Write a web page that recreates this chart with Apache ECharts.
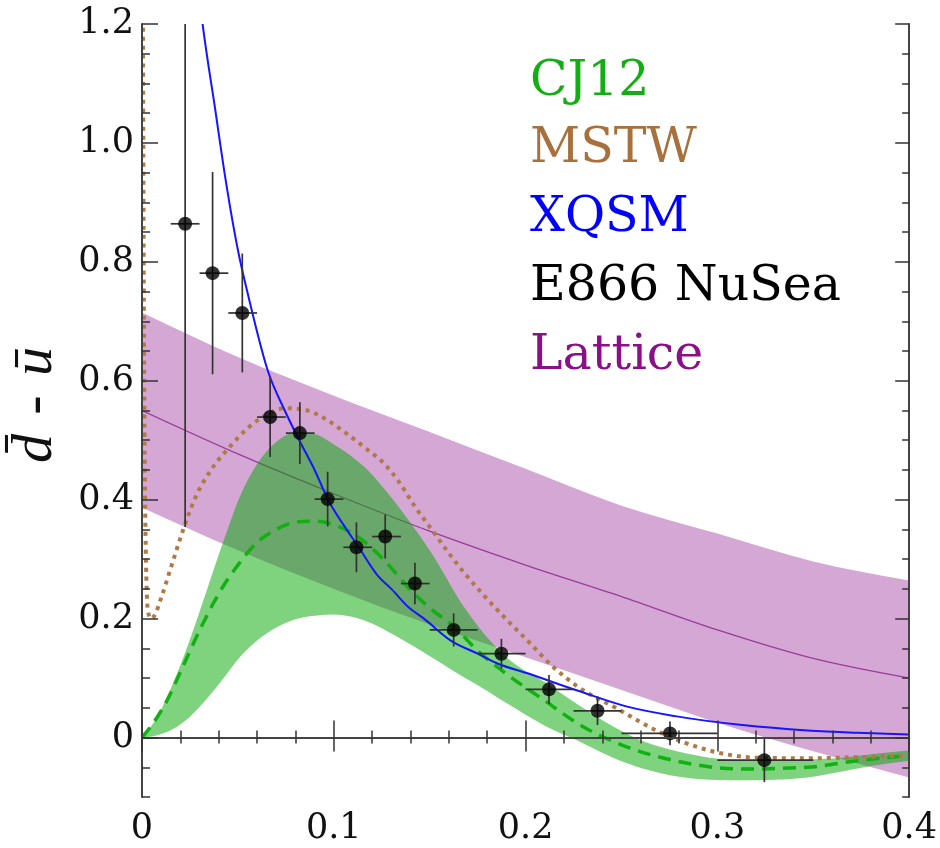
<!DOCTYPE html>
<html><head><meta charset="utf-8">
<script src="https://cdn.jsdelivr.net/npm/echarts@6/dist/echarts.min.js"></script>
<style>html,body{margin:0;padding:0;background:#fff}#c{width:940px;height:848px}</style>
</head><body><div id="c"></div>
<script>
// ---- tick labels ----
const xTickValues = [0, 0.1, 0.2, 0.3, 0.4];
const xTickLabels = ['0', '0.1', '0.2', '0.3', '0.4'];
const yTickValues = [0, 0.2, 0.4, 0.6, 0.8, 1.0, 1.2];
const yTickLabels = ['0', '0.2', '0.4', '0.6', '0.8', '1.0', '1.2'];

// ---- Lattice band ----
const latX     = [0, 0.05, 0.1, 0.15, 0.2, 0.25, 0.3, 0.35, 0.4];
const latLow   = [0.387, 0.315, 0.25, 0.19, 0.135, 0.08, 0.025, -0.023, -0.067];
const latHigh  = [0.715, 0.64, 0.575, 0.514, 0.452, 0.39, 0.343, 0.296, 0.264];
const latMid   = [0.55, 0.477, 0.41, 0.347, 0.29, 0.237, 0.181, 0.133, 0.1];

// ---- CJ12 band ----
const cjX    = [0, 0.008, 0.016, 0.025, 0.034, 0.043, 0.051, 0.06, 0.07, 0.08, 0.09, 0.1, 0.116, 0.134, 0.151, 0.168, 0.175, 0.19, 0.21, 0.227, 0.245, 0.261, 0.28, 0.296, 0.313, 0.33, 0.347, 0.365, 0.38, 0.4];
const cjHigh = [0, 0.035, 0.09, 0.165, 0.25, 0.335, 0.405, 0.46, 0.497, 0.513, 0.51, 0.493, 0.455, 0.387, 0.31, 0.219, 0.188, 0.135, 0.093, 0.056, 0.02, -0.006, -0.024, -0.034, -0.038, -0.039, -0.037, -0.034, -0.028, -0.022];
const cjLow  = [0, 0.004, 0.014, 0.035, 0.066, 0.102, 0.135, 0.163, 0.185, 0.199, 0.205, 0.207, 0.197, 0.168, 0.135, 0.101, 0.088, 0.058, 0.02, -0.005, -0.033, -0.052, -0.066, -0.071, -0.072, -0.071, -0.067, -0.057, -0.048, -0.039];
const cjMidX = [0, 0.006, 0.013, 0.02, 0.03, 0.04, 0.05, 0.06, 0.07, 0.08, 0.09, 0.1, 0.11, 0.12, 0.13, 0.14, 0.15, 0.1625, 0.175, 0.19, 0.21, 0.227, 0.253, 0.278, 0.313, 0.347, 0.373, 0.4];
const cjMidY = [0, 0.025, 0.062, 0.11, 0.18, 0.242, 0.29, 0.328, 0.35, 0.362, 0.364, 0.358, 0.343, 0.318, 0.285, 0.248, 0.218, 0.187, 0.146, 0.107, 0.062, 0.024, -0.016, -0.039, -0.053, -0.05, -0.039, -0.03];

// ---- MSTW ----
const mstwX = [0.0004, 0.001, 0.0018, 0.003, 0.0045, 0.0065, 0.01, 0.015, 0.021, 0.028, 0.036, 0.0455, 0.055, 0.065, 0.075, 0.085, 0.095, 0.105, 0.116, 0.127, 0.134, 0.142, 0.151, 0.16, 0.168, 0.178, 0.189, 0.201, 0.214, 0.227, 0.247, 0.27, 0.296, 0.321, 0.347, 0.373, 0.4];
const mstwY = [1.3, 0.7, 0.35, 0.215, 0.2, 0.205, 0.235, 0.285, 0.345, 0.405, 0.45, 0.488, 0.52, 0.543, 0.554, 0.551, 0.537, 0.515, 0.488, 0.458, 0.43, 0.39, 0.35, 0.31, 0.277, 0.24, 0.202, 0.163, 0.12, 0.086, 0.05, 0.009, -0.022, -0.034, -0.035, -0.033, -0.03];

// ---- XQSM ----
const xqsmX = [0.027, 0.0316, 0.038, 0.044, 0.05, 0.056, 0.066, 0.074, 0.082, 0.09, 0.097, 0.105, 0.113, 0.123, 0.13, 0.139, 0.147, 0.161, 0.175, 0.185, 0.201, 0.227, 0.253, 0.278, 0.313, 0.347, 0.373, 0.4];
const xqsmY = [1.33, 1.2, 1.06, 0.93, 0.82, 0.735, 0.613, 0.553, 0.5, 0.45, 0.4, 0.358, 0.32, 0.272, 0.25, 0.219, 0.2, 0.163, 0.141, 0.125, 0.108, 0.079, 0.052, 0.036, 0.021, 0.012, 0.008, 0.005];

// ---- E866 NuSea data ----
const e866X   = [0.0225, 0.0368, 0.0523, 0.0668, 0.0823, 0.0968, 0.1118, 0.1268, 0.1423, 0.1625, 0.1874, 0.2122, 0.2375, 0.2753, 0.3245];
const e866Y   = [0.864, 0.781, 0.714, 0.539, 0.512, 0.401, 0.32, 0.338, 0.259, 0.181, 0.141, 0.081, 0.045, 0.007, -0.038];
const e866Err = [0.51, 0.17, 0.1, 0.067, 0.052, 0.046, 0.042, 0.037, 0.035, 0.028, 0.025, 0.024, 0.024, 0.02, 0.037];
const e866XLo = [0.015, 0.03, 0.045, 0.06, 0.075, 0.09, 0.105, 0.12, 0.135, 0.15, 0.175, 0.2, 0.225, 0.25, 0.3];
const e866XHi = [0.03, 0.045, 0.06, 0.075, 0.09, 0.105, 0.12, 0.135, 0.15, 0.175, 0.2, 0.225, 0.25, 0.3, 0.35];

// ---- legend labels ----
const legendNames  = ['CJ12', 'MSTW', 'XQSM', 'E866 NuSea', 'Lattice'];
const legendColors = ['#14ad14', '#a8703c', '#0000ff', '#000000', '#8a108a'];

const pairs = (xs, ys) => xs.map((x, i) => [x, ys[i]]);
const lookup = (vals, labs) => v => { const i = vals.findIndex(t => Math.abs(t - v) < 1e-9); return i >= 0 ? labs[i] : ''; };

// monotone cubic (in x) tangents for pixel points
function tangents(p) {
  const n = p.length, m = new Array(n), s = [], h = [];
  for (let i = 0; i < n - 1; i++) { h[i] = p[i + 1][0] - p[i][0]; s[i] = h[i] ? (p[i + 1][1] - p[i][1]) / h[i] : 0; }
  if (n === 2) { m[0] = m[1] = s[0]; return m; }
  for (let i = 1; i < n - 1; i++) {
    if (s[i - 1] * s[i] <= 0) { m[i] = 0; continue; }
    const pp = (s[i - 1] * h[i] + s[i] * h[i - 1]) / (h[i - 1] + h[i]);
    m[i] = (Math.sign(s[i - 1]) + Math.sign(s[i])) * Math.min(Math.abs(s[i - 1]), Math.abs(s[i]), 0.5 * Math.abs(pp));
  }
  m[0] = (3 * s[0] - m[1]) / 2;
  m[n - 1] = (3 * s[n - 2] - m[n - 2]) / 2;
  return m;
}
function segPath(p, m, reverse) {
  let d = '';
  const idx = p.map((_, i) => i);
  if (reverse) idx.reverse();
  for (let k = 0; k < idx.length - 1; k++) {
    const a = idx[k], b = idx[k + 1];
    const h = p[b][0] - p[a][0];
    d += ' C' + (p[a][0] + h / 3) + ' ' + (p[a][1] + m[a] * h / 3) + ' ' + (p[b][0] - h / 3) + ' ' + (p[b][1] - m[b] * h / 3) + ' ' + p[b][0] + ' ' + p[b][1];
  }
  return d;
}
function curvePath(api, xs, ys) {
  const p = xs.map((x, i) => api.coord([x, ys[i]]));
  return 'M' + p[0][0] + ' ' + p[0][1] + segPath(p, tangents(p), false);
}
function bandPath(api, xs, lo, hi) {
  const pu = xs.map((x, i) => api.coord([x, hi[i]]));
  const pl = xs.map((x, i) => api.coord([x, lo[i]]));
  const n = xs.length;
  return 'M' + pu[0][0] + ' ' + pu[0][1] + segPath(pu, tangents(pu), false) +
    ' L' + pl[n - 1][0] + ' ' + pl[n - 1][1] + segPath(pl, tangents(pl), true) + ' Z';
}
function curveSeries(name, xs, ys, z, style) {
  return { type: 'custom', name, z, silent: true, clip: true, data: pairs(xs, ys), encode: { x: 0, y: 1 },
    renderItem: (params, api) => params.dataIndex === 0
      ? { type: 'path', shape: { pathData: curvePath(api, xs, ys) }, style: Object.assign({ fill: null }, style) }
      : null };
}
function bandSeries(name, xs, lo, hi, z, fill) {
  return { type: 'custom', name, z, silent: true, clip: true, data: pairs(xs, hi), encode: { x: 0, y: 1 },
    renderItem: (params, api) => params.dataIndex === 0
      ? { type: 'path', shape: { pathData: bandPath(api, xs, lo, hi) }, style: { fill, stroke: null } }
      : null };
}

const tickStyle = { color: '#333', width: 1.5 };
const serif = 'DejaVu Serif';

const chart = echarts.init(document.getElementById('c'), null, { renderer: 'canvas' });
const option = {
  animation: false,
  backgroundColor: '#fff',
  grid: { left: 142, right: 26, top: 24, bottom: 51, show: false, containLabel: false },
  xAxis: [
    { type: 'value', min: 0, max: 0.4, interval: 0.1, position: 'bottom', z: 10,
      axisLine: { show: true, lineStyle: { color: '#444', width: 2 } },
      splitLine: { show: false },
      axisTick: { show: true, inside: true, length: 17, lineStyle: tickStyle },
      minorTick: { show: true, splitNumber: 5, length: 7, lineStyle: tickStyle },
      axisLabel: { formatter: lookup(xTickValues, xTickLabels), fontFamily: serif, fontSize: 35, color: '#111', margin: 14 } },
    { type: 'value', min: 0, max: 0.4, interval: 0.1, position: 'top', z: 10,
      axisLine: { show: true, lineStyle: { color: '#444', width: 2 } },
      splitLine: { show: false },
      axisTick: { show: true, inside: true, length: 14, lineStyle: tickStyle },
      minorTick: { show: true, splitNumber: 5, length: 6, lineStyle: tickStyle },
      axisLabel: { show: false } }
  ],
  yAxis: [
    { type: 'value', min: -0.1, max: 1.2, interval: 0.05, position: 'left', z: 10,
      axisLine: { show: true, lineStyle: { color: '#444', width: 2 } },
      splitLine: { show: false },
      axisTick: { show: true, inside: true, length: 8, lineStyle: tickStyle },
      axisLabel: { customValues: yTickValues, formatter: lookup(yTickValues, yTickLabels), fontFamily: serif, fontSize: 35, color: '#111', margin: 8 } },
    { type: 'value', min: -0.1, max: 1.2, interval: 0.05, position: 'left', z: 10,
      axisLine: { show: false }, splitLine: { show: false },
      axisTick: { show: true, inside: true, length: 16, customValues: yTickValues, lineStyle: tickStyle },
      axisLabel: { show: false } },
    { type: 'value', min: -0.1, max: 1.2, interval: 0.05, position: 'right', z: 10,
      axisLine: { show: true, lineStyle: { color: '#444', width: 2 } },
      splitLine: { show: false },
      axisTick: { show: true, inside: true, length: 7, lineStyle: tickStyle },
      axisLabel: { show: false } },
    { type: 'value', min: -0.1, max: 1.2, interval: 0.05, position: 'right', z: 10,
      axisLine: { show: false }, splitLine: { show: false },
      axisTick: { show: true, inside: true, length: 14, customValues: yTickValues, lineStyle: tickStyle },
      axisLabel: { show: false } }
  ],
  series: [
    bandSeries('Lattice band', latX, latLow, latHigh, 1, 'rgb(212,167,212)'),
    curveSeries('Lattice', latX, latMid, 2, { stroke: '#9a3c9a', lineWidth: 1.3 }),
    curveSeries('zero', [xTickValues[0], xTickValues[xTickValues.length - 1]], [0, 0], 2, { stroke: '#555', lineWidth: 1 }),
    bandSeries('CJ12 band', cjX, cjLow, cjHigh, 3, 'rgba(0,168,0,0.5)'),
    curveSeries('CJ12', cjMidX, cjMidY, 4, { stroke: '#12b012', lineWidth: 3.5, lineDash: [13, 8] }),
    curveSeries('MSTW', mstwX, mstwY, 5, { stroke: '#b07a48', lineWidth: 4, lineDash: [4, 5] }),
    curveSeries('XQSM', xqsmX, xqsmY, 6, { stroke: '#1515ff', lineWidth: 2 }),
    { type: 'custom', name: 'E866 err', z: 7, silent: true, clip: true,
      data: e866X.map((x, i) => [x, e866Y[i], e866Err[i], e866XLo[i], e866XHi[i]]),
      encode: { x: 0, y: 1 },
      renderItem: function (params, api) {
        const x = api.value(0), y = api.value(1), e = api.value(2), lo = api.value(3), hi = api.value(4);
        const top = api.coord([x, y + e]), bot = api.coord([x, y - e]);
        const l = api.coord([lo, y]), r = api.coord([hi, y]);
        const st = { stroke: '#333', lineWidth: 1.7 };
        return { type: 'group', children: [
          { type: 'line', shape: { x1: top[0], y1: top[1], x2: bot[0], y2: bot[1] }, style: st },
          { type: 'line', shape: { x1: l[0], y1: l[1], x2: r[0], y2: r[1] }, style: st }
        ] };
      } },
    { type: 'scatter', name: 'E866 NuSea', z: 8, silent: true, data: pairs(e866X, e866Y),
      symbol: 'circle', symbolSize: 14, itemStyle: { color: '#000' } }
  ],
  graphic: [
    ...legendNames.map((n, i) => ({ type: 'text', x: 530, y: [82, 149, 218, 287, 356][i], z: 20,
      style: { text: n, fill: legendColors[i], font: '49px "DejaVu Serif"', textAlign: 'left', textVerticalAlign: 'middle' } })),
    { type: 'text', x: 36, y: 463, rotation: Math.PI / 2, z: 20,
      style: { text: 'd\u0304\u2004-\u2004\u016b', fill: '#111', font: 'italic 58px "Liberation Serif"', textAlign: 'left', textVerticalAlign: 'middle' } }
  ]
};
chart.setOption(option);
</script>
</body></html>
